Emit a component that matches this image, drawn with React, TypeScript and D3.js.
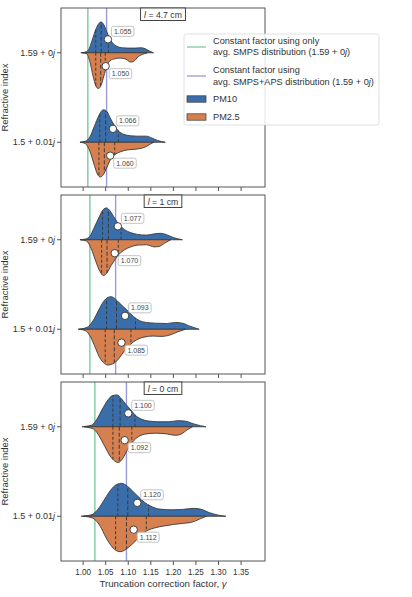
import React from "react";
import * as d3 from "d3";

// ---------- data ----------
const panelLengths = ["4.7", "1", "0"]; // aperture distance l (cm)
const categories = ["1.59 + 0j", "1.5 + 0.01j"]; // refractive index
const xTicks = [1.0, 1.05, 1.1, 1.15, 1.2, 1.25, 1.3, 1.35];
const smpsOnlyFactor = [1.0105, 1.015, 1.026];
const smpsApsFactor = [1.052, 1.072, 1.096];

const pm10Means = [[1.055, 1.066], [1.077, 1.093], [1.1, 1.12]];
const pm25Means = [[1.05, 1.06], [1.07, 1.085], [1.092, 1.112]];

// [Q1, median, Q3]
const pm10Quartiles = [
  [[1.028, 1.04, 1.056], [1.037, 1.05, 1.078]],
  [[1.043, 1.056, 1.084], [1.052, 1.074, 1.116]],
  [[1.066, 1.082, 1.115], [1.077, 1.099, 1.145]],
];
const pm25Quartiles = [
  [[1.028, 1.039, 1.049], [1.035, 1.047, 1.07]],
  [[1.041, 1.053, 1.078], [1.049, 1.069, 1.106]],
  [[1.066, 1.08, 1.108], [1.072, 1.096, 1.14]],
];

// density profiles [gamma, relative density]
const pm10_l47_n159 = [[0.995,0],[1.005,0.02],[1.012,0.08],[1.02,0.35],[1.028,0.65],[1.035,0.82],[1.04,0.86],[1.046,0.78],[1.052,0.6],[1.058,0.42],[1.065,0.28],[1.075,0.18],[1.085,0.14],[1.1,0.13],[1.115,0.13],[1.128,0.14],[1.138,0.11],[1.148,0.04],[1.156,0]];
const pm25_l47_n159 = [[0.998,0],[1.008,0.03],[1.015,0.25],[1.022,0.65],[1.028,0.92],[1.034,1.0],[1.04,0.9],[1.046,0.65],[1.052,0.38],[1.06,0.22],[1.07,0.17],[1.082,0.15],[1.095,0.18],[1.105,0.26],[1.112,0.24],[1.122,0.11],[1.135,0.03],[1.142,0]];
const pm10_l47_n15 = [[0.993,0],[1.005,0.03],[1.015,0.15],[1.025,0.45],[1.035,0.75],[1.045,0.91],[1.053,0.85],[1.06,0.68],[1.068,0.5],[1.078,0.32],[1.09,0.22],[1.105,0.18],[1.12,0.17],[1.14,0.17],[1.152,0.12],[1.165,0.05],[1.182,0]];
const pm25_l47_n15 = [[0.995,0],[1.005,0.04],[1.015,0.25],[1.025,0.65],[1.032,0.9],[1.038,0.97],[1.045,0.9],[1.052,0.72],[1.06,0.5],[1.07,0.35],[1.082,0.27],[1.095,0.22],[1.11,0.2],[1.125,0.18],[1.14,0.12],[1.15,0.04],[1.157,0]];
const pm10_l1_n159 = [[0.993,0],[1.005,0.02],[1.015,0.1],[1.025,0.35],[1.035,0.62],[1.045,0.85],[1.052,0.89],[1.06,0.8],[1.07,0.6],[1.08,0.42],[1.092,0.28],[1.105,0.2],[1.12,0.15],[1.14,0.13],[1.16,0.17],[1.172,0.18],[1.185,0.14],[1.2,0.06],[1.22,0]];
const pm25_l1_n159 = [[0.995,0],[1.008,0.04],[1.018,0.25],[1.028,0.6],[1.037,0.88],[1.045,1.0],[1.053,0.92],[1.062,0.72],[1.071,0.55],[1.08,0.4],[1.092,0.28],[1.105,0.2],[1.12,0.15],[1.14,0.14],[1.158,0.2],[1.168,0.19],[1.18,0.1],[1.194,0]];
const pm10_l1_n15 = [[0.989,0],[1.0,0.02],[1.012,0.08],[1.025,0.3],[1.035,0.55],[1.045,0.77],[1.055,0.89],[1.062,0.91],[1.07,0.86],[1.08,0.74],[1.09,0.62],[1.1,0.5],[1.112,0.35],[1.125,0.24],[1.14,0.19],[1.16,0.17],[1.185,0.16],[1.205,0.19],[1.22,0.17],[1.238,0.08],[1.257,0]];
const pm25_l1_n15 = [[0.992,0],[1.005,0.04],[1.015,0.18],[1.025,0.45],[1.035,0.75],[1.045,0.93],[1.055,1.0],[1.065,0.97],[1.075,0.88],[1.085,0.72],[1.095,0.55],[1.105,0.42],[1.118,0.3],[1.135,0.22],[1.155,0.19],[1.175,0.2],[1.19,0.17],[1.21,0.07],[1.227,0]];
const pm10_l0_n159 = [[0.998,0],[1.01,0.02],[1.02,0.05],[1.03,0.2],[1.042,0.48],[1.055,0.75],[1.065,0.87],[1.075,0.89],[1.085,0.78],[1.095,0.62],[1.105,0.48],[1.115,0.33],[1.128,0.22],[1.145,0.16],[1.165,0.14],[1.19,0.14],[1.21,0.17],[1.225,0.16],[1.245,0.08],[1.26,0.03],[1.272,0]];
const pm25_l0_n159 = [[1.002,0],[1.015,0.03],[1.025,0.08],[1.035,0.25],[1.048,0.55],[1.06,0.82],[1.07,0.96],[1.078,1.0],[1.088,0.88],[1.098,0.65],[1.11,0.42],[1.122,0.28],[1.14,0.2],[1.16,0.18],[1.185,0.2],[1.205,0.24],[1.218,0.2],[1.23,0.09],[1.242,0]];
const pm10_l0_n15 = [[0.996,0],[1.01,0.02],[1.02,0.05],[1.032,0.18],[1.045,0.42],[1.058,0.68],[1.07,0.85],[1.085,0.92],[1.098,0.84],[1.11,0.7],[1.122,0.55],[1.135,0.4],[1.15,0.28],[1.17,0.2],[1.195,0.18],[1.22,0.19],[1.245,0.22],[1.26,0.2],[1.28,0.1],[1.3,0.03],[1.316,0]];
const pm25_l0_n15 = [[1.0,0],[1.012,0.02],[1.025,0.08],[1.038,0.28],[1.05,0.58],[1.062,0.82],[1.072,0.95],[1.082,0.99],[1.092,0.95],[1.102,0.85],[1.114,0.72],[1.128,0.52],[1.142,0.4],[1.16,0.32],[1.18,0.27],[1.2,0.23],[1.22,0.2],[1.24,0.17],[1.258,0.08],[1.273,0]];

const pm10Density = [[pm10_l47_n159, pm10_l47_n15], [pm10_l1_n159, pm10_l1_n15], [pm10_l0_n159, pm10_l0_n15]];
const pm25Density = [[pm25_l47_n159, pm25_l47_n15], [pm25_l1_n159, pm25_l1_n15], [pm25_l0_n159, pm25_l0_n15]];

const legendLines = [
  ["Constant factor using only", "avg. SMPS distribution (1.59 + 0j)"],
  ["Constant factor using", "avg. SMPS+APS distribution (1.59 + 0j)"],
];
const legendPatches = ["PM10", "PM2.5"];

// ---------- style / layout ----------
const W = 412, H = 597;
const LEFT = 61, RIGHT = 265, PH = 179;
const TOPS = [8, 195, 382];
const FONT = "'Liberation Sans', Arial, sans-serif";
const BLUE = "#3a6eaa", ORANGE = "#d6804f";
const GREEN = "#7fc9a0", PURPLE = "#9a9ad6";
const EDGE = "#3a3a3a", AXIS = "#555";

let _ctx: CanvasRenderingContext2D | null = null;
function measure(t: string, size: number) {
  if (!_ctx) _ctx = document.createElement("canvas").getContext("2d");
  if (!_ctx) return t.length * size * 0.5;
  _ctx.font = `${size}px 'Liberation Sans', Arial, sans-serif`;
  return _ctx.measureText(t).width;
}

function interp(pts: number[][], g: number) {
  for (let i = 1; i < pts.length; i++) {
    if (g <= pts[i][0]) {
      const [x0, y0] = pts[i - 1], [x1, y1] = pts[i];
      return y0 + ((g - x0) / (x1 - x0)) * (y1 - y0);
    }
  }
  return 0;
}

function JText({ s, ...rest }: any) {
  const idx = s.lastIndexOf("j");
  if (idx < 0) return <text {...rest}>{s}</text>;
  return (
    <text {...rest}>
      {s.slice(0, idx)}
      <tspan fontStyle="italic">j</tspan>
      {s.slice(idx + 1)}
    </text>
  );
}

const x = d3.scaleLinear().domain([0.951, 1.403]).range([LEFT, RIGHT]);

function Panel({ p }: { p: number }) {
  const top = TOPS[p];
  const y = d3.scaleLinear().domain([-0.5, 1.5]).range([top, top + PH]);
  const k = y(0.4) - y(0);
  const off = y(0.15) - y(0);
  const areaUp = (cy: number) =>
    d3.area<number[]>().x((d) => x(d[0])).y0(cy).y1((d) => cy - d[1] * k).curve(d3.curveMonotoneX);
  const areaDown = (cy: number) =>
    d3.area<number[]>().x((d) => x(d[0])).y0(cy).y1((d) => cy + d[1] * k).curve(d3.curveMonotoneX);
  const title = `= ${panelLengths[p]} cm`;
  const tw = measure("l " + title, 8.7) + 7;
  const cx = (LEFT + RIGHT) / 2;
  return (
    <g>
      <defs>
        <clipPath id={`clip${p}`}>
          <rect x={LEFT} y={top} width={RIGHT - LEFT} height={PH} />
        </clipPath>
      </defs>
      <g clipPath={`url(#clip${p})`}>
        <line x1={x(smpsOnlyFactor[p])} x2={x(smpsOnlyFactor[p])} y1={top} y2={top + PH} stroke={GREEN} strokeWidth={1.4} />
        <line x1={x(smpsApsFactor[p])} x2={x(smpsApsFactor[p])} y1={top} y2={top + PH} stroke={PURPLE} strokeWidth={1.4} />
        {categories.map((c, ci) => {
          const cy = y(ci);
          const d10 = pm10Density[p][ci];
          const d25 = pm25Density[p][ci];
          return (
            <g key={c}>
              <path d={areaUp(cy)(d10) || ""} fill={BLUE} stroke={EDGE} strokeWidth={0.9} />
              <path d={areaDown(cy)(d25) || ""} fill={ORANGE} stroke={EDGE} strokeWidth={0.9} />
              {pm10Quartiles[p][ci].map((q, qi) => (
                <line key={"a" + qi} x1={x(q)} x2={x(q)} y1={cy} y2={cy - interp(d10, q) * k}
                  stroke={EDGE} strokeWidth={1} strokeDasharray={qi === 1 ? "4,2" : "3,2"} />
              ))}
              {pm25Quartiles[p][ci].map((q, qi) => (
                <line key={"b" + qi} x1={x(q)} x2={x(q)} y1={cy} y2={cy + interp(d25, q) * k}
                  stroke={EDGE} strokeWidth={1} strokeDasharray={qi === 1 ? "4,2" : "3,2"} />
              ))}
            </g>
          );
        })}
      </g>
      {categories.map((c, ci) => {
        const cy = y(ci);
        const items = [
          { m: pm10Means[p][ci], py: cy - off, ly: -8 },
          { m: pm25Means[p][ci], py: cy + off, ly: 7.5 },
        ];
        return (
          <g key={c + "m"}>
            {items.map((it, ii) => {
              const px = x(it.m);
              const lab = it.m.toFixed(3);
              const lw = measure(lab, 7) + 5;
              const bx = px + 3.5, by = it.py + it.ly - 5;
              return (
                <g key={ii}>
                  <rect x={bx} y={by} width={lw} height={10} rx={2} fill="white" stroke="#b5b5b5" strokeWidth={0.8} />
                  <text x={bx + lw / 2} y={by + 5} dy="0.35em" textAnchor="middle" fontSize={7} fill="#444" fontFamily={FONT}>{lab}</text>
                  <circle cx={px} cy={it.py} r={3.7} fill="white" stroke="#333" strokeWidth={0.9} />
                </g>
              );
            })}
          </g>
        );
      })}
      <rect x={LEFT} y={top} width={RIGHT - LEFT} height={PH} fill="none" stroke={AXIS} strokeWidth={1} />
      <rect x={cx - tw / 2} y={top} width={tw} height={12.5} fill="white" stroke="#444" strokeWidth={1} />
      <text x={cx} y={top + 6.5} dy="0.35em" textAnchor="middle" fontSize={8.7} fill="#333" fontFamily={FONT}>
        <tspan fontStyle="italic">l</tspan> {title}
      </text>
      {xTicks.map((t) => (
        <line key={t} x1={x(t)} x2={x(t)} y1={top + PH} y2={top + PH + 4} stroke={AXIS} strokeWidth={1} />
      ))}
      {categories.map((c, ci) => (
        <g key={c + "t"}>
          <line x1={LEFT - 4} x2={LEFT} y1={y(ci)} y2={y(ci)} stroke={AXIS} strokeWidth={1} />
          <JText s={c} x={LEFT - 6} y={y(ci)} dy="0.35em" textAnchor="end" fontSize={9} fill="#333" fontFamily={FONT} />
        </g>
      ))}
      <text transform={`translate(4.5,${top + PH / 2}) rotate(-90)`} dy="0.35em" textAnchor="middle" fontSize={9.5} fill="#333" fontFamily={FONT}>
        Refractive index
      </text>
    </g>
  );
}

function Legend() {
  const lx = 184, ly = 34, lw = 195, lh = 91;
  const hx0 = 187, hx1 = 206, tx = 213;
  const lineColors = [GREEN, PURPLE];
  const lineY = [47, 76];
  const textY = [[40.7, 52], [70, 81.5]];
  const patchY = [99, 117];
  const patchColors = [BLUE, ORANGE];
  return (
    <g fontFamily={FONT} fontSize={9.2} fill="#333">
      <rect x={lx} y={ly} width={lw} height={lh} rx={2.5} fill="white" fillOpacity={0.85} stroke="#d8d8d8" strokeWidth={0.8} />
      {legendLines.map((ls, i) => (
        <g key={i}>
          <line x1={hx0} x2={hx1} y1={lineY[i]} y2={lineY[i]} stroke={lineColors[i]} strokeWidth={1.3} />
          {ls.map((s, j) => (
            <JText key={j} s={s} x={tx} y={textY[i][j]} dy="0.35em" />
          ))}
        </g>
      ))}
      {legendPatches.map((s, i) => (
        <g key={s}>
          <rect x={hx0} y={patchY[i] - 3.2} width={hx1 - hx0} height={6.4} fill={patchColors[i]} stroke={EDGE} strokeWidth={0.7} />
          <text x={tx} y={patchY[i]} dy="0.35em">{s}</text>
        </g>
      ))}
    </g>
  );
}

export default function App() {
  const bottom = TOPS[2] + PH;
  return (
    <svg width={W} height={H} style={{ position: "absolute", left: 0, top: 0, background: "white" }}>
      <rect width={W} height={H} fill="white" />
      {panelLengths.map((_, p) => (
        <Panel key={p} p={p} />
      ))}
      {xTicks.map((t) => (
        <text key={t} x={x(t)} y={bottom + 11.5} dy="0.35em" textAnchor="middle" fontSize={8.2} fill="#333" fontFamily={FONT}>
          {t.toFixed(2)}
        </text>
      ))}
      <text x={(LEFT + RIGHT) / 2} y={bottom + 22.5} dy="0.35em" textAnchor="middle" fontSize={9.7} fill="#333" fontFamily={FONT}>
        Truncation correction factor, <tspan fontStyle="italic">γ</tspan>
      </text>
      <Legend />
    </svg>
  );
}
